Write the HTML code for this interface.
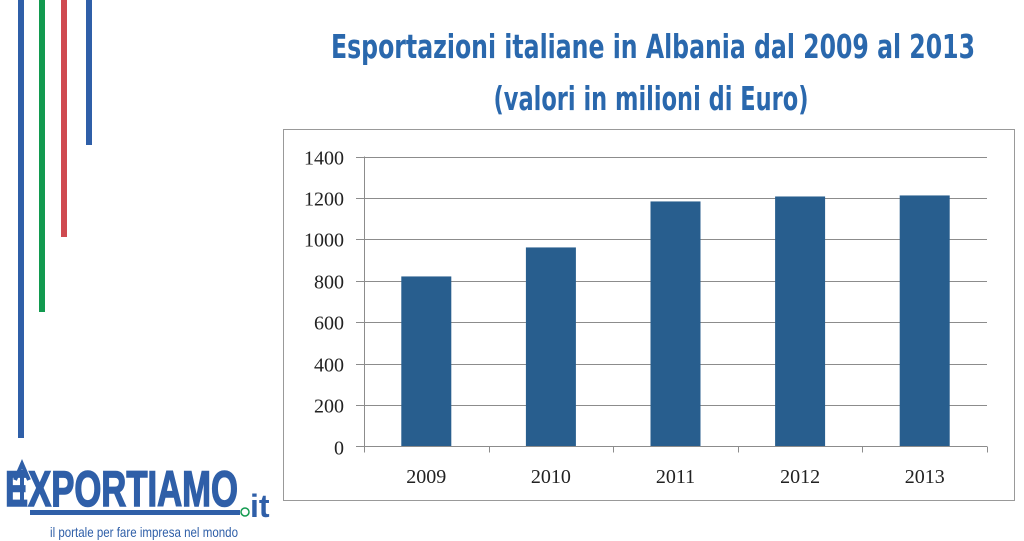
<!DOCTYPE html>
<html><head><meta charset="utf-8"><style>
html,body{margin:0;padding:0;background:#fff;width:1024px;height:541px;overflow:hidden}
svg{display:block}
</style></head><body>
<svg id="chart" width="1024" height="541" viewBox="0 0 1024 541" xmlns="http://www.w3.org/2000/svg">
  <g>
    <rect x="18" y="0" width="6" height="438" fill="#2f5fa8"/>
    <rect x="39" y="0" width="6" height="312" fill="#129a4f"/>
    <rect x="61" y="0" width="6" height="237" fill="#cf4a50"/>
    <rect x="86" y="0" width="6" height="145" fill="#2f5fa8"/>
  </g>
  <g fill="#2a68ad" font-family="'DejaVu Sans', 'Liberation Sans', sans-serif" font-weight="bold" text-anchor="middle">
    <text x="653" y="58" font-size="33" textLength="644" lengthAdjust="spacingAndGlyphs">Esportazioni italiane in Albania dal 2009 al 2013</text>
    <text x="651" y="110" font-size="33" textLength="315" lengthAdjust="spacingAndGlyphs">(valori in milioni di Euro)</text>
  </g>
  <rect x="283.5" y="129.5" width="731" height="371" fill="#fff" stroke="#999" stroke-width="1"/>
  <g id="grid"></g>
  <g id="bars"></g>
  <g id="axes"></g>
  <g>
    <path d="M22 505 L22 470 M15 480 L22 464 L29 480" stroke="#2f5fa8" stroke-width="4" fill="none"/>
    <text x="5" y="506" font-family="'Liberation Sans Narrow','Liberation Sans',sans-serif" font-weight="bold" font-size="50" fill="#2f5fa8" stroke="#2f5fa8" stroke-width="1.5" textLength="233" lengthAdjust="spacingAndGlyphs">EXPORTIAMO</text>
    <rect x="30" y="510" width="210" height="5" fill="#2f5fa8"/>
    <circle cx="245" cy="512" r="4" fill="#fff" stroke="#129a4f" stroke-width="1.5"/>
    <text x="250" y="517" font-family="'Liberation Sans',sans-serif" font-weight="bold" font-size="32" fill="#2f5fa8">it</text>
    <text x="144" y="537" text-anchor="middle" font-family="'Liberation Sans Narrow','Liberation Sans',sans-serif" font-size="14" fill="#2f5fa8" textLength="188" lengthAdjust="spacingAndGlyphs">il portale per fare impresa nel mondo</text>
  </g>
</svg>
<script>
const categories = ["2009","2010","2011","2012","2013"];
const values = [821, 961, 1183, 1207, 1212];
const yTicks = [0,200,400,600,800,1000,1200,1400];

const NS = "http://www.w3.org/2000/svg";
const X0 = 364, X1 = 987, Y0 = 446.5, Y1 = 156.5, YMAX = 1400;
const band = (X1 - X0) / categories.length;
const barW = 50;
function yScale(v){ return Y0 - (v / YMAX) * (Y0 - Y1); }
function xCenter(i){ return X0 + band * (i + 0.5); }
function mk(tag, attrs, parent){ const e = document.createElementNS(NS, tag); for (const k in attrs) e.setAttribute(k, attrs[k]); parent.appendChild(e); return e; }

const grid = document.getElementById('grid');
const bars = document.getElementById('bars');
const axes = document.getElementById('axes');
const font = "'Liberation Serif', serif";

yTicks.forEach(t => {
  const y = Math.round(yScale(t)) + 0.5;
  if (t > 0) {
    const l = mk('line', {x1: X0 - 8, x2: X1, y1: y, y2: y, stroke: '#8c8c8c', 'stroke-width': 1}, grid);
    
    
  }
  const tx = mk('text', {x: 344, y: y + 7, 'text-anchor': 'end', 'font-family': font, 'font-size': 20, fill: '#222'}, axes);
  tx.textContent = t;
  
  
});

values.forEach((v, i) => {
  const y = yScale(v);
  const r = mk('rect', {x: xCenter(i) - barW/2, y: y, width: barW, height: Y0 - y, fill: '#285e8e'}, bars);
  
  
  const lab = mk('text', {x: xCenter(i), y: 483, 'text-anchor': 'middle', 'font-family': font, 'font-size': 20, fill: '#222'}, axes);
  lab.textContent = categories[i];
  
  
});

const ya = mk('line', {x1: X0 + 0.5, x2: X0 + 0.5, y1: Y1, y2: Y0, stroke: '#8c8c8c'}, axes);


const xa = mk('line', {x1: X0 - 8, x2: X1, y1: Y0, y2: Y0, stroke: '#8c8c8c'}, axes);


for (let i = 0; i <= categories.length; i++) {
  const x = Math.round(X0 + band * i) + 0.5;
  const tk = mk('line', {x1: x, x2: x, y1: Y0, y2: Y0 + 6, stroke: '#8c8c8c'}, axes);
  
  
}
</script>
</body></html>
